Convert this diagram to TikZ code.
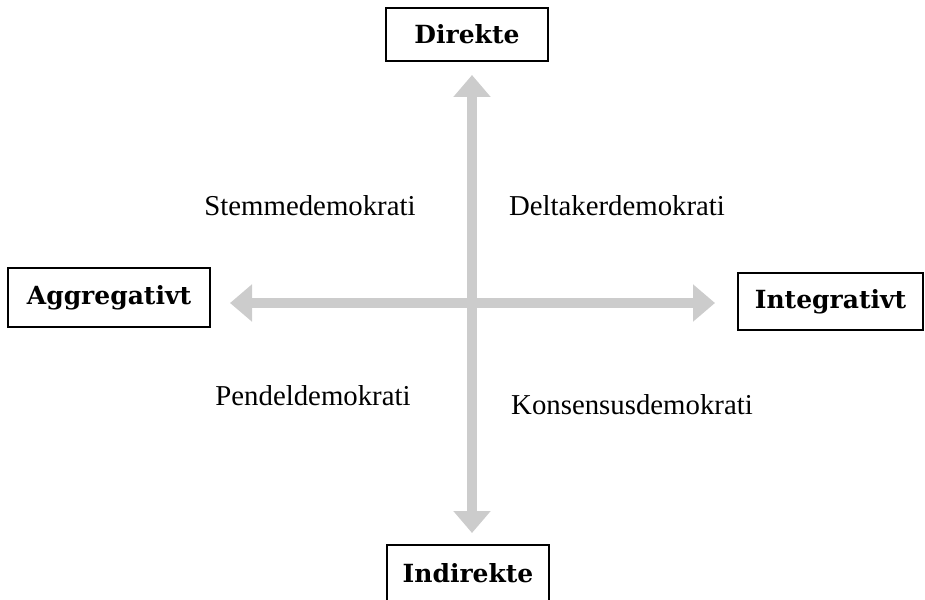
\documentclass[tikz,border=0pt]{standalone}
\usepackage{fontspec}
\setmainfont{Liberation Serif}
\newfontfamily\boxfont{DejaVu Serif}
\usetikzlibrary{arrows.meta}
\definecolor{axisgray}{HTML}{CCCCCC}
\begin{document}
\begin{tikzpicture}[x=1pt,y=-1pt,
  pole/.style={draw=black, line width=1.6pt, inner sep=0pt, fill=white,
    font=\boxfont\bfseries\fontsize{25}{29}\selectfont},
  kind/.style={font=\fontsize{28.8}{32}\selectfont, inner sep=0pt},
  axis/.style={axisgray, line width=9.5pt,
    {Triangle[width=36pt,length=22pt]}-{Triangle[width=36pt,length=22pt]}}]
  \useasboundingbox (0,0) rectangle (925,599);

  % poles of the two axes
  \node[pole, minimum width=162pt, minimum height=53pt] (dir) at (467,34.5) {Direkte};
  \node[pole, minimum width=162pt, minimum height=56pt] (ind) at (468,573) {Indirekte};
  \node[pole, minimum width=202pt, minimum height=59pt] (agg) at (109,297.5) {Aggregativt};
  \node[pole, minimum width=185pt, minimum height=57pt] (int) at (830.5,301.5) {Integrativt};

  % arrow tips
  \coordinate (top) at (472,75);
  \coordinate (bot) at (472,533);
  \coordinate (lft) at (230,303);
  \coordinate (rgt) at (715,303);

  \draw[axis] (lft) -- (rgt);
  \draw[axis] (top) -- (bot);

  % quadrant labels
  \node[kind] (stem) at (310,206) {Stemmedemokrati};
  \node[kind] (delt) at (617,206) {Deltakerdemokrati};
  \node[kind] (pend) at (313,396) {Pendeldemokrati};
  \node[kind] (kons) at (632,405) {Konsensusdemokrati};
\end{tikzpicture}
\end{document}
